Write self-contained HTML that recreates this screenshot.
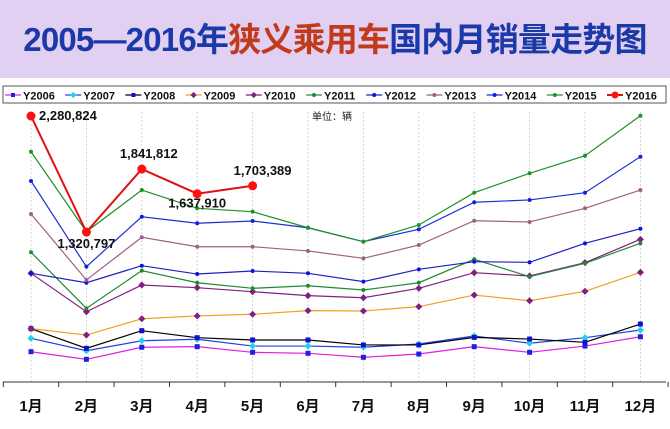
<!DOCTYPE html>
<html><head><meta charset="utf-8"><style>
body{margin:0;width:670px;height:429px;overflow:hidden;background:#fff;font-family:"Liberation Sans","Noto Sans CJK SC",sans-serif;}
#title{position:absolute;left:0;top:0;width:670px;height:78px;background:#e2d0f2;text-align:center;line-height:80px;font-size:33px;font-weight:bold;color:#1b3aa8;letter-spacing:-0.8px;}
#title span{color:#c23a1e;}
</style></head><body>
<div id="title">2005—2016年<span>狭义乘用车</span>国内月销量走势图</div>
<svg id="chart" width="670" height="429" style="position:absolute;left:0;top:0"></svg>
<script>
const months=["1月","2月","3月","4月","5月","6月","7月","8月","9月","10月","11月","12月"];
const seriesNames=["Y2006","Y2007","Y2008","Y2009","Y2010","Y2011","Y2012","Y2013","Y2014","Y2015","Y2016"];
const y2006=[330,267,367,372,325,317,284,311,372,325,377,454];
const y2007=[441,338,421,433,377,377,367,394,460,400,446,510];
const y2008=[521,358,504,446,427,427,386,386,449,435,408,559];
const y2009=[521,468,603,626,640,670,667,703,799,752,830,987];
const y2010=[979,661,882,860,827,794,777,855,984,957,1067,1260];
const y2011=[1153,689,1001,901,855,876,841,901,1095,951,1062,1227];
const y2012=[979,901,1042,973,998,979,910,1012,1075,1070,1227,1348];
const y2013=[1470,924,1277,1199,1199,1164,1103,1213,1414,1404,1517,1668];
const y2014=[1743,1034,1447,1393,1412,1356,1241,1343,1567,1586,1646,1944];
const y2015=[1985,1323,1668,1517,1489,1356,1241,1379,1646,1807,1952,2283];
const y2016=[2280.824,1320.797,1841.812,1637.910,1703.389];
const y2016Labels=["2,280,824","1,320,797","1,841,812","1,637,910","1,703,389"];
const allSeries=[y2006,y2007,y2008,y2009,y2010,y2011,y2012,y2013,y2014,y2015,y2016];
const lineColors=["#e020e0","#2040e0","#000000","#f0a020","#802080","#208a30","#2020c0","#a06080","#2030d0","#20902a","#e01010"];
const markColors=["#2020e0","#20d0f0","#1010d0","#802080","#802080","#208a30","#1010e0","#a06080","#1020e0","#20902a","#ff1010"];
const markShapes=["sq","dia","sq","dia","dia","dot","dot","dot","dot","dot","big"];
const xs=i=>31+i*55.4;
const ys=v=>391.6-v/8.276;
const svg=document.getElementById('chart');
const NS="http://www.w3.org/2000/svg";
function mk(t,a,p){const e=document.createElementNS(NS,t);for(const k in a)e.setAttribute(k,a[k]);(p||svg).appendChild(e);return e;}
const lg=mk('rect',{x:3,y:86,width:663,height:17,fill:'#fff',stroke:'#555','stroke-width':1});

seriesNames.forEach((n,i)=>{
 const g=mk('g',{});
 
 
 const x0=5+i*60.2;
 mk('line',{x1:x0,y1:95,x2:x0+16,y2:95,stroke:lineColors[i],'stroke-width':i==10?2:1.2},g);
 const c=x0+8;
 if(markShapes[i]=='sq')mk('rect',{x:c-2,y:93,width:4,height:4,fill:markColors[i]},g);
 else if(markShapes[i]=='dia')mk('rect',{x:c-2.2,y:92.8,width:4.4,height:4.4,fill:markColors[i],transform:`rotate(45 ${c} 95)`},g);
 else mk('circle',{cx:c,cy:95,r:i==10?3.5:2,fill:markColors[i]},g);
 const t=mk('text',{x:x0+18,y:99.5,'font-size':11,'font-weight':'bold',fill:'#111'},g);t.textContent=n;
});
const u=mk('text',{x:312,y:120,'font-size':10,fill:'#222'});u.textContent="单位：辆";

months.forEach((m,i)=>{
 const l=mk('line',{x1:xs(i),y1:112,x2:xs(i),y2:382,stroke:'#ccc','stroke-width':0.8,'stroke-dasharray':'2,2'});
 
 const t=mk('text',{x:xs(i),y:411,'font-size':15,'font-weight':'bold','text-anchor':'middle',fill:'#111'});
 t.textContent=m;
});
const ax=mk('line',{x1:3,y1:382,x2:666,y2:382,stroke:'#333','stroke-width':1});

for(let k=0;k<=12;k++){const tk=mk('line',{x1:xs(k)-27.7,y1:382,x2:xs(k)-27.7,y2:387,stroke:'#333'});
 }
allSeries.forEach((s,i)=>{
 const g=mk('g',{});
 
 
 mk('polyline',{points:s.map((v,j)=>xs(j)+','+ys(v)).join(' '),fill:'none',stroke:lineColors[i],'stroke-width':i==10?2:1.2},g);
 s.forEach((v,j)=>{
  const x=xs(j),y=ys(v);let e;
  if(markShapes[i]=='sq')e=mk('rect',{x:x-2.5,y:y-2.5,width:5,height:5,fill:markColors[i]},g);
  else if(markShapes[i]=='dia')e=mk('rect',{x:x-2.5,y:y-2.5,width:5,height:5,fill:markColors[i],transform:`rotate(45 ${x} ${y})`},g);
  else e=mk('circle',{cx:x,cy:y,r:i==10?4.5:2,fill:markColors[i]},g);
  
  
 });
});
const lblOff=[[8,4,'start'],[0,16,'middle'],[7,-11,'middle'],[0,14,'middle'],[10,-11,'middle']];
y2016.forEach((v,j)=>{
 const o=lblOff[j];
 const t=mk('text',{x:xs(j)+o[0],y:ys(v)+o[1],'font-size':13,'font-weight':'bold','text-anchor':o[2],fill:'#111'});
 t.textContent=y2016Labels[j];
 
 
});
</script>
</body></html>
